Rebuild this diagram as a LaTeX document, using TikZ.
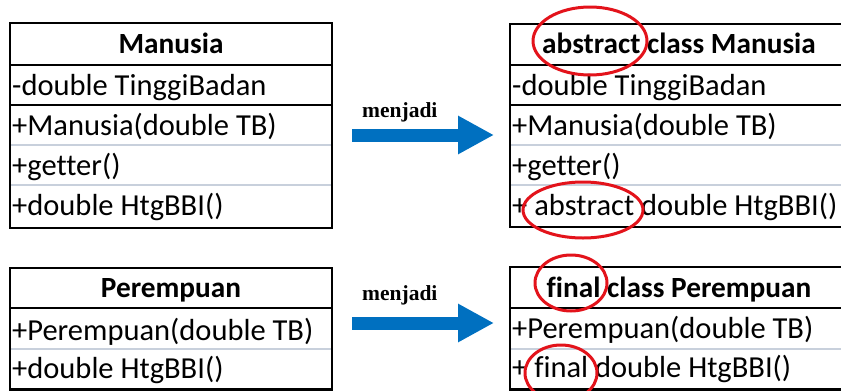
\documentclass[tikz,border=0pt]{standalone}
\usepackage{fontspec}
\setmainfont[Ligatures={NoCommon}]{Carlito}
\newfontfamily\labelfont{Liberation Serif}
\usetikzlibrary{arrows.meta}
\definecolor{rowline}{HTML}{C8D0DC}
\definecolor{arrowblue}{HTML}{0070C0}
\definecolor{markred}{HTML}{E3131B}
\begin{document}
\begin{tikzpicture}[x=1pt,y=-1pt,
  cell/.style={anchor=base west, inner sep=0pt, font=\fontsize{30.5}{32}\selectfont},
  head/.style={anchor=base, inner sep=0pt, font=\fontsize{29.3}{31}\selectfont\bfseries},
  frame/.style={line width=2.5pt},
  split/.style={line width=1.6pt},
  soft/.style={line width=1.2pt, draw=rowline},
  ring/.style={draw=markred, line width=3pt},
  turn/.style={line width=13pt, arrowblue, -{Triangle[length=36pt,width=36pt]}},
  turnlabel/.style={anchor=base west, inner sep=0pt, font=\labelfont\bfseries\fontsize{21.5}{23}\selectfont}
]
\useasboundingbox (0,0) rectangle (841,391);
\clip (0,0) rectangle (841,391);

% class Manusia
\draw[soft] (10,145) -- (332,145) (10,185) -- (332,185);
\draw[split] (10,65) -- (332,65) (10,105) -- (332,105);
\draw[frame] (10,23) rectangle (332,228);
\node[head] (m0) at (171,53) {Manusia};
\node[cell] (m1) at (12,95) {-double TinggiBadan};
\node[cell] (m2) at (12,135) {+Manusia(double TB)};
\node[cell] (m3) at (12,175) {+getter()};
\node[cell] (m4) at (12,215) {+double HtgBBI()};

% abstract class Manusia
\draw[soft] (510,145) -- (850,145) (510,185) -- (850,185);
\draw[split] (510,65) -- (850,65) (510,105) -- (850,105);
\draw[frame] (510,24) rectangle (850,227);
\node[head] (n0) at (679,53) {abstract class Manusia};
\node[cell] (n1) at (512,95) {-double TinggiBadan};
\node[cell] (n2) at (512,135) {+Manusia(double TB)};
\node[cell] (n3) at (512,175) {+getter()};
\node[cell] (n4) at (512,215) {+ abstract double HtgBBI()};

% class Perempuan
\draw[soft] (10,349) -- (332,349);
\draw[split] (10,308) -- (332,308);
\draw[frame] (10,268) rectangle (332,389.5);
\node[head] (p0) at (171,297) {Perempuan};
\node[cell] (p1) at (12,340) {+Perempuan(double TB)};
\node[cell] (p2) at (12,378) {+double HtgBBI()};

% final class Perempuan
\draw[soft] (510,349) -- (850,349);
\draw[split] (510,308) -- (850,308);
\draw[frame] (510,267) rectangle (850,389.5);
\node[head] (q0) at (679,297) {final class Perempuan};
\node[cell] (q1) at (512,338) {+Perempuan(double TB)};
\node[cell] (q2) at (512,377) {+ final double HtgBBI()};

% transformation arrows
\coordinate (s1) at (352,135);
\coordinate (e1) at (494,135);
\draw[turn] (s1) -- (e1);
\node[turnlabel] (j1) at (362,117) {menjadi};
\coordinate (s2) at (352,323);
\coordinate (e2) at (494,323);
\draw[turn] (s2) -- (e2);
\node[turnlabel] (j2) at (362,300) {menjadi};

% highlighted keywords
\draw[ring] (590,41) ellipse [x radius=57, y radius=34];
\draw[ring] (583,210) ellipse [x radius=60, y radius=28];
\draw[ring] (571,283) ellipse [x radius=36, y radius=28];
\draw[ring] (561,373) ellipse [x radius=36, y radius=28];
\end{tikzpicture}
\end{document}
